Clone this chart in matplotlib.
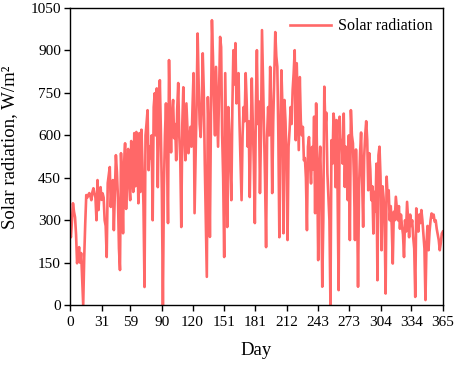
import matplotlib
matplotlib.use('Agg')
import matplotlib.pyplot as plt

# daily solar radiation, W/m2 (day 0..365)
radiation = [
    254, 240, 300, 360, 330, 311, 250, 148, 180, 205,
    150, 184, 90, 0, 170, 290, 389, 380, 390, 396,
    385, 371, 400, 413, 395, 380, 300, 442, 336, 400,
    417, 372, 395, 380, 300, 280, 170, 431, 460, 488,
    347, 420, 442, 265, 400, 530, 470, 380, 200, 124,
    537, 420, 254, 500, 572, 340, 480, 552, 420, 371,
    580, 460, 400, 608, 420, 612, 550, 360, 608, 400,
    620, 500, 350, 64, 600, 642, 689, 477, 560, 520,
    600, 300, 700, 749, 600, 766, 417, 650, 795, 620,
    400, 0, 420, 600, 713, 560, 290, 866, 650, 540,
    680, 725, 590, 640, 512, 690, 785, 600, 520, 276,
    640, 770, 600, 512, 713, 620, 537, 580, 630, 560,
    700, 820, 325, 520, 720, 960, 780, 640, 594, 700,
    890, 760, 500, 300, 100, 735, 600, 241, 650, 1007,
    880, 720, 600, 842, 700, 560, 750, 948, 912, 600,
    450, 170, 820, 560, 276, 700, 620, 480, 371, 700,
    901, 780, 926, 713, 760, 820, 640, 500, 371, 600,
    700, 650, 820, 720, 560, 650, 382, 600, 801, 640,
    500, 290, 700, 901, 640, 720, 396, 600, 972, 800,
    620, 442, 205, 600, 700, 600, 842, 700, 396, 650,
    800, 965, 880, 842, 600, 240, 600, 830, 700, 254,
    725, 650, 502, 230, 560, 619, 700, 640, 760, 820,
    901, 583, 855, 700, 548, 806, 650, 600, 630, 512,
    520, 450, 265, 560, 594, 500, 430, 559, 480, 666,
    325, 713, 500, 159, 477, 560, 400, 65, 300, 772,
    630, 680, 466, 380, 300, 0, 583, 500, 677, 640,
    417, 654, 400, 53, 666, 560, 583, 500, 677, 418,
    560, 442, 371, 600, 230, 689, 600, 572, 450, 230,
    550, 396, 65, 420, 537, 610, 450, 277, 523, 600,
    650, 583, 406, 537, 480, 371, 420, 253, 400, 330,
    500, 88, 530, 560, 454, 194, 420, 380, 300, 41,
    454, 380, 406, 300, 350, 280, 147, 330, 300, 383,
    340, 300, 350, 270, 320, 280, 250, 170, 300, 260,
    365, 300, 240, 320, 280, 300, 240, 200, 29, 342,
    300, 260, 320, 290, 336, 300, 250, 200, 18, 218,
    280, 194, 260, 300, 324, 310, 320, 295, 300, 270,
    250, 230, 194, 220, 253, 260,
]
days = list(range(len(radiation)))

x_ticks = [0, 31, 59, 90, 120, 151, 181, 212, 243, 273, 304, 334, 365]
y_ticks = [0, 150, 300, 450, 600, 750, 900, 1050]


def main():
    plt.rcParams['font.family'] = ['Liberation Serif', 'DejaVu Serif']
    fig = plt.figure(figsize=(4.57, 3.65), dpi=100)
    ax = fig.add_axes([0.153, 0.164, 0.816, 0.814])
    ax.plot(days, radiation, color='#ff6868', linewidth=1.9, label='Solar radiation')
    ax.set_xlim(0, 365)
    ax.set_ylim(0, 1050)
    ax.set_xticks(x_ticks)
    ax.set_yticks(y_ticks)
    ax.tick_params(direction='out', length=4, width=1, labelsize=11, pad=2.5)
    ax.tick_params(axis='x', pad=4)
    for spine in ax.spines.values():
        spine.set_linewidth(1.0)
    ax.set_xlabel('Day', fontsize=13.5, labelpad=9)
    ax.set_ylabel('Solar radiation, W/m²', fontsize=13.5)
    ax.yaxis.set_label_coords(-0.138, 0.53)
    ax.legend(loc='upper right', frameon=False, fontsize=11.5, handlelength=2.6,
              borderaxespad=0.25, handletextpad=0.4)
    fig.savefig('out.png', dpi=100)
    return


if __name__ == '__main__':
    main()
